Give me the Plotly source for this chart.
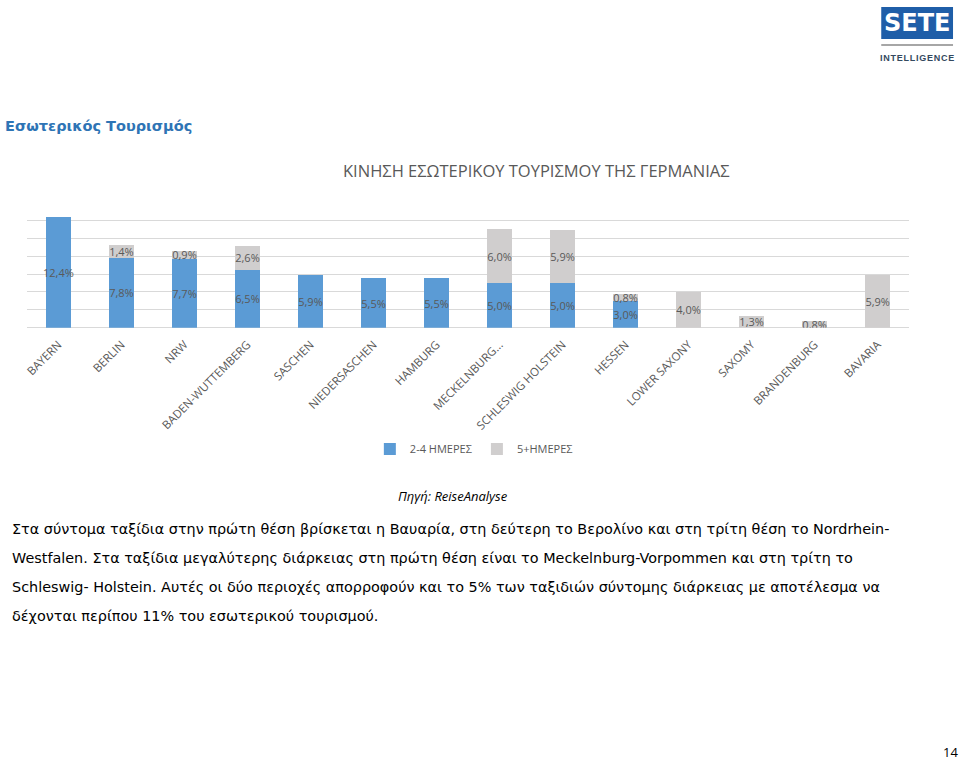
import plotly.graph_objects as go

W, H = 960, 763

categories = ["BAYERN", "BERLIN", "NRW", "BADEN-WUTTEMBERG", "SASCHEN", "NIEDERSASCHEN",
              "HAMBURG", "MECKELNBURG...", "SCHLESWIG HOLSTEIN", "HESSEN", "LOWER SAXONY",
              "SAXOMY", "BRANDENBURG", "BAVARIA"]
short_trips = [12.4, 7.8, 7.7, 6.5, 5.9, 5.5, 5.5, 5.0, 5.0, 3.0, None, None, None, None]
long_trips = [None, 1.4, 0.9, 2.6, None, None, None, 6.0, 5.9, 0.8, 4.0, 1.3, 0.8, 5.9]
series_names = ["2-4 ΗΜΕΡΕΣ", "5+ΗΜΕΡΕΣ"]

chart_title = "ΚΙΝΗΣΗ ΕΣΩΤΕΡΙΚΟΥ ΤΟΥΡΙΣΜΟΥ ΤΗΣ ΓΕΡΜΑΝΙΑΣ"
page_title = "Εσωτερικός Τουρισμός"
source_text = "Πηγή: ReiseAnalyse"
body_lines = [
    "Στα σύντομα ταξίδια στην πρώτη θέση βρίσκεται η Βαυαρία, στη δεύτερη το Βερολίνο και στη τρίτη θέση το Nordrhein-",
    "Westfalen. Στα ταξίδια μεγαλύτερης διάρκειας στη πρώτη θέση είναι το Meckelnburg-Vorpommen και στη τρίτη το",
    "Schleswig- Holstein. Αυτές οι δύο περιοχές απορροφούν και το 5% των ταξιδιών σύντομης διάρκειας με αποτέλεσμα να",
    "δέχονται περίπου 11% του εσωτερικού τουρισμού.",
]
page_number = "14"
logo_word = "SETE"
logo_sub = "INTELLIGENCE"

BLUE = "#5B9BD5"
GREY = "#D0CECE"
LABEL = "#595959"
CHART_FONT = "Open Sans"


def fmt(v):
    return None if v is None else f"{v:.1f}".replace(".", ",") + "%"


def px(x):
    return x / W


def py(y):
    return 1 - y / H


fig = go.Figure()
for name, vals, col in [(series_names[0], short_trips, BLUE), (series_names[1], long_trips, GREY)]:
    fig.add_trace(go.Bar(
        x=categories, y=vals, name=name, marker=dict(color=col, line=dict(width=0)),
        text=[fmt(v) for v in vals], textposition="inside", insidetextanchor="middle",
        textangle=0, constraintext="none",
        textfont=dict(family=CHART_FONT, size=11, color=LABEL),
        hoverinfo="skip",
    ))

fig.update_layout(
    width=W, height=H, autosize=False,
    margin=dict(l=0, r=0, t=0, b=0),
    paper_bgcolor="white", plot_bgcolor="white",
    barmode="stack", bargap=0.6,
    uniformtext=dict(minsize=11, mode="show"),
    showlegend=True,
    legend=dict(orientation="h", x=px(368), y=py(449), xanchor="left", yanchor="middle",
                font=dict(family=CHART_FONT, size=11, color=LABEL),
                itemwidth=30, traceorder="normal", bgcolor="rgba(0,0,0,0)"),
    xaxis=dict(domain=[px(24), px(909)], tickangle=-45, showgrid=False, showline=False,
               ticks="", ticklabelstandoff=7,
               tickfont=dict(family=CHART_FONT, size=11.5, color=LABEL),
               fixedrange=True),
    yaxis=dict(domain=[py(327.7), py(202.4)], range=[0, 14], dtick=2, showgrid=True,
               gridcolor="#D9D9D9", gridwidth=1, zeroline=True, zerolinecolor="#D9D9D9",
               zerolinewidth=1, showticklabels=False, showline=False, fixedrange=True),
    font=dict(family=CHART_FONT),
)

ann = []
ann.append(dict(text=chart_title, x=px(535), y=py(171), xref="paper", yref="paper",
                showarrow=False, xanchor="center", yanchor="middle",
                font=dict(family=CHART_FONT, size=16.5, color=LABEL)))
ann.append(dict(text="<b>" + page_title + "</b>", x=px(0), y=py(126), xref="paper", yref="paper",
                showarrow=False, xanchor="left", yanchor="middle",
                font=dict(family="DejaVu Sans", size=14.5, color="#2E74B5")))
ann.append(dict(text="<i>" + source_text + "</i>", x=px(451), y=py(496), xref="paper", yref="paper",
                showarrow=False, xanchor="center", yanchor="middle",
                font=dict(family=CHART_FONT, size=13, color="#000000")))
for i, line in enumerate(body_lines):
    ann.append(dict(text=line, x=px(7), y=py(529 + i * 29), xref="paper", yref="paper",
                    showarrow=False, xanchor="left", yanchor="middle",
                    font=dict(family="DejaVu Sans", size=14.4, color="#000000")))
ann.append(dict(text=page_number, x=px(950), y=py(752), xref="paper", yref="paper",
                showarrow=False, xanchor="center", yanchor="middle",
                font=dict(family=CHART_FONT, size=13, color="#000000")))
# logo
ann.append(dict(text="<b>" + logo_word + "</b>", x=px(917), y=py(23), xref="paper", yref="paper",
                showarrow=False, xanchor="center", yanchor="middle",
                font=dict(family="DejaVu Sans", size=24, color="white")))
ann.append(dict(text="<b>" + "\u200a".join(logo_sub) + "</b>", x=px(917), y=py(58),
                xref="paper", yref="paper", showarrow=False, xanchor="center", yanchor="middle",
                font=dict(family="Liberation Sans", size=9, color="#34495E")))
fig.update_layout(annotations=ann)

fig.add_shape(type="rect", xref="paper", yref="paper", x0=px(881), x1=px(953), y0=py(39), y1=py(7),
              fillcolor="#1F5EA8", line=dict(width=0), layer="below")
fig.add_shape(type="line", xref="paper", yref="paper", x0=px(881), x1=px(953), y0=py(45), y1=py(45),
              line=dict(color="#A6A6A6", width=2))

fig.write_html("out.html")
